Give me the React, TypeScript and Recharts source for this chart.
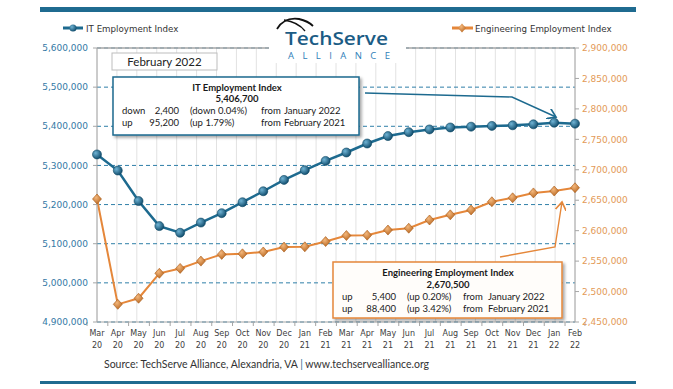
import { CartesianGrid, Line, LineChart, ReferenceLine, XAxis, YAxis } from 'recharts'

const categories = [
    'Mar 20', 'Apr 20', 'May 20', 'Jun 20', 'Jul 20', 'Aug 20', 'Sep 20', 'Oct 20',
    'Nov 20', 'Dec 20', 'Jan 21', 'Feb 21', 'Mar 21', 'Apr 21', 'May 21', 'Jun 21',
    'Jul 21', 'Aug 21', 'Sep 21', 'Oct 21', 'Nov 21', 'Dec 21', 'Jan 22', 'Feb 22',
]

const itIndex = [
    5328000, 5287000, 5209000, 5145000, 5128000, 5154000, 5178000, 5206000,
    5234000, 5263000, 5288000, 5311500, 5333000, 5356000, 5375000, 5385000,
    5392000, 5397000, 5399000, 5401000, 5402500, 5405000, 5409100, 5406700,
]

const engIndex = [
    2652000, 2479000, 2489000, 2530000, 2538000, 2550000, 2561000, 2562000,
    2565000, 2573000, 2573500, 2582100, 2592000, 2592500, 2601000, 2604000,
    2617500, 2626000, 2634000, 2647500, 2654000, 2662000, 2665100, 2670500,
]

const leftTicks = [4900000, 5000000, 5100000, 5200000, 5300000, 5400000, 5500000, 5600000]
const rightTicks = [2450000, 2500000, 2550000, 2600000, 2650000, 2700000, 2750000, 2800000, 2850000, 2900000]

const data = categories.map((name, i) => ({ name, it: itIndex[i], eng: engIndex[i] }))

const W = 673
const H = 389
const LEFT_W = 97
const RIGHT_W = 98
const BAND = (W - LEFT_W - RIGHT_W) / categories.length

const TEAL = '#1d6a8f'
const ORANGE = '#e5873a'
const fmt = (v: number) => v.toLocaleString('en-US')

const XTick = (props: any) => {
    const { x, y, payload, index } = props
    const [m, yr] = String(payload.value).split(' ')
    return (
        <g>
            <line x1={x - BAND / 2} x2={x - BAND / 2} y1={y} y2={y + 4} stroke="#a6a6a6" />
            {index === categories.length - 1 && (
                <line x1={x + BAND / 2} x2={x + BAND / 2} y1={y} y2={y + 4} stroke="#a6a6a6" />
            )}
            <text x={x} y={y + 14} textAnchor="middle" fontSize={8} fontFamily="DejaVu Sans" fill="#404040">
                {m}
            </text>
            <text x={x} y={y + 26} textAnchor="middle" fontSize={8} fontFamily="DejaVu Sans" fill="#404040">
                {yr}
            </text>
        </g>
    )
}

const Diamond = (props: any) => {
    const { cx, cy } = props
    if (cx == null || cy == null) return null
    return (
        <path
            d={`M${cx},${cy - 5} L${cx + 4.5},${cy} L${cx},${cy + 5} L${cx - 4.5},${cy} Z`}
            fill="url(#engDot)"
            stroke="#a85a18"
            strokeWidth={0.6}
        />
    )
}

const Ball = (props: any) => {
    const { cx, cy } = props
    if (cx == null || cy == null) return null
    return <circle cx={cx} cy={cy} r={4.5} fill="url(#itDot)" stroke="#0c4663" strokeWidth={0.6} />
}

const boxText = { fontFamily: 'Lato', fontSize: 9.5, fill: '#1a1a1a' }

export default function App() {
    return (
        <div style={{ position: 'absolute', left: 0, top: 0, width: W, height: H, background: '#fff' }}>
            <LineChart
                width={W}
                height={H}
                data={data}
                margin={{ top: 48, right: 0, bottom: 37, left: 0 }}
                style={{ position: 'absolute', left: 0, top: 0 }}
            >
                <CartesianGrid
                    vertical
                    horizontal={false}
                    stroke="#e2e2e2"
                    verticalCoordinatesGenerator={({ offset }: any) =>
                        Array.from({ length: categories.length + 1 }, (_, i) => offset.left + (i * offset.width) / categories.length)
                    }
                />
                <CartesianGrid
                    yAxisId="left"
                    vertical={false}
                    stroke="#2f7fa8"
                    strokeDasharray="4 3"
                />
                <XAxis
                    dataKey="name"
                    height={30}
                    interval={0}
                    tickSize={0}
                    tickMargin={0}
                    tickLine={false}
                    stroke="#a6a6a6"
                    tick={<XTick />}
                />
                <YAxis
                    yAxisId="left"
                    width={LEFT_W}
                    domain={[4900000, 5600000]}
                    ticks={leftTicks}
                    tickFormatter={fmt}
                    tickSize={4}
                    tickMargin={5}
                    stroke="#a6a6a6"
                    tick={{ fill: '#3479a5', fontSize: 9, fontFamily: 'DejaVu Sans' }}
                />
                <YAxis
                    yAxisId="right"
                    orientation="right"
                    width={RIGHT_W}
                    domain={[2450000, 2900000]}
                    ticks={rightTicks}
                    tickFormatter={fmt}
                    tickSize={4}
                    tickMargin={3}
                    stroke="#a6a6a6"
                    tick={{ fill: '#e39a57', fontSize: 9, fontFamily: 'DejaVu Sans', textAnchor: 'start' }}
                />
                <ReferenceLine yAxisId="left" y={5600000} stroke="#a6a6a6" strokeWidth={1.5} />
                <Line
                    yAxisId="right"
                    type="linear"
                    dataKey="eng"
                    stroke={ORANGE}
                    strokeWidth={2}
                    dot={<Diamond />}
                    isAnimationActive={false}
                />
                <Line
                    yAxisId="left"
                    type="linear"
                    dataKey="it"
                    stroke={TEAL}
                    strokeWidth={2.5}
                    dot={<Ball />}
                    isAnimationActive={false}
                />
            </LineChart>

            <svg width={W} height={H} style={{ position: 'absolute', left: 0, top: 0, pointerEvents: 'none' }}>
                <defs>
                    <radialGradient id="itDot" cx="35%" cy="35%" r="70%">
                        <stop offset="0%" stopColor="#6fb3d4" />
                        <stop offset="100%" stopColor="#0e4a6a" />
                    </radialGradient>
                    <radialGradient id="engDot" cx="40%" cy="35%" r="70%">
                        <stop offset="0%" stopColor="#f3b77c" />
                        <stop offset="100%" stopColor="#b8661f" />
                    </radialGradient>
                    <filter id="shadow" x="-5%" y="-10%" width="115%" height="135%">
                        <feDropShadow dx="2" dy="2" stdDeviation="1.5" floodColor="#000" floodOpacity="0.35" />
                    </filter>
                    <marker id="arrTeal" markerWidth="8" markerHeight="8" refX="6" refY="4" orient="auto">
                        <path d="M0,0 L6,4 L0,8" fill="none" stroke={TEAL} strokeWidth={1.2} />
                    </marker>
                    <marker id="arrOrange" markerWidth="8" markerHeight="8" refX="6" refY="4" orient="auto">
                        <path d="M0,0 L6,4 L0,8" fill="none" stroke={ORANGE} strokeWidth={1.2} />
                    </marker>
                </defs>

                {/* frame bars */}
                <rect x={40} y={7} width={596} height={5} fill="#1f6b90" />
                <rect x={40} y={381} width={596} height={3} fill="#1f6b90" />

                {/* logo */}
                <rect x={269} y={16} width={137} height={47} fill="#fff" />
                <path d="M277,29 Q284,17 299,19 Q308,21 313,26" fill="none" stroke="#111" strokeWidth={1.8} />
                <path d="M284,20 Q298,22 305,31" fill="none" stroke="#111" strokeWidth={1.3} />
                <text x={285} y={45} fontFamily="Open Sans" fontWeight={600} fontSize={18} fill="#1b5c85" textLength={103} lengthAdjust="spacingAndGlyphs">
                    TechServe
                </text>
                <text x={288} y={58.5} fontFamily="Open Sans" fontSize={9.5} fill="#2f80b9" textLength={102} lengthAdjust="spacing">
                    ALLIANCE
                </text>

                {/* legend */}
                <line x1={63} x2={83} y1={28} y2={28} stroke={TEAL} strokeWidth={3} />
                <circle cx={73} cy={28} r={3.5} fill="url(#itDot)" />
                <text x={86} y={31.5} fontFamily="DejaVu Sans" fontSize={8.7} fill="#333">IT Employment Index</text>
                <line x1={452} x2={473} y1={28} y2={28} stroke={ORANGE} strokeWidth={3} />
                <path d="M462,23.5 L466,28 L462,32.5 L458,28 Z" fill="url(#engDot)" />
                <text x={475} y={31.5} fontFamily="DejaVu Sans" fontSize={8.7} fill="#333">Engineering Employment Index</text>

                {/* month label */}
                <rect x={112} y={53} width={105} height={17} fill="#fff" stroke="#bdbdbd" />
                <text x={164.5} y={65.5} textAnchor="middle" fontFamily="Lato" fontSize={11.5} fill="#222">February 2022</text>

                {/* IT callout */}
                <polyline points="365,93 512,97 556,117" fill="none" stroke={TEAL} strokeWidth={1.4} markerEnd="url(#arrTeal)" />
                <rect x={113} y={77} width={246} height={58} fill="#fff" stroke={TEAL} strokeWidth={1.5} filter="url(#shadow)" />
                <text x={237} y={90.5} textAnchor="middle" {...boxText} fontWeight={700}>IT Employment Index</text>
                <text x={237} y={102} textAnchor="middle" {...boxText} fontWeight={700}>5,406,700</text>
                <text x={122} y={114} {...boxText}>down</text>
                <text x={179} y={114} textAnchor="end" {...boxText}>2,400</text>
                <text x={190} y={114} {...boxText}>(down 0.04%)</text>
                <text x={261} y={114} {...boxText}>from</text>
                <text x={284} y={114} {...boxText}>January 2022</text>
                <text x={122} y={125.5} {...boxText}>up</text>
                <text x={179} y={125.5} textAnchor="end" {...boxText}>95,200</text>
                <text x={190} y={125.5} {...boxText}>(up 1.79%)</text>
                <text x={261} y={125.5} {...boxText}>from</text>
                <text x={284} y={125.5} {...boxText}>February 2021</text>

                {/* Engineering callout */}
                <polyline points="500,257 555,247 562,202" fill="none" stroke={ORANGE} strokeWidth={1.4} markerEnd="url(#arrOrange)" />
                <rect x={333} y={262} width={229} height={56} fill="#fffdfa" stroke={ORANGE} strokeWidth={1.5} filter="url(#shadow)" />
                <text x={448} y={275.5} textAnchor="middle" {...boxText} fontWeight={700}>Engineering Employment Index</text>
                <text x={448} y={287.5} textAnchor="middle" {...boxText} fontWeight={700}>2,670,500</text>
                <text x={342} y={300} {...boxText}>up</text>
                <text x={396} y={300} textAnchor="end" {...boxText}>5,400</text>
                <text x={407} y={300} {...boxText}>(up 0.20%)</text>
                <text x={463} y={300} {...boxText}>from</text>
                <text x={488} y={300} {...boxText}>January 2022</text>
                <text x={342} y={311.5} {...boxText}>up</text>
                <text x={396} y={311.5} textAnchor="end" {...boxText}>88,400</text>
                <text x={407} y={311.5} {...boxText}>(up 3.42%)</text>
                <text x={463} y={311.5} {...boxText}>from</text>
                <text x={488} y={311.5} {...boxText}>February 2021</text>

                {/* source */}
                <text x={104} y={367.5} fontFamily="Lato" fontSize={10.5} fill="#333">
                    Source: TechServe Alliance, Alexandria, VA <tspan fill="#1f6b90">|</tspan> www.techservealliance.org
                </text>
            </svg>
        </div>
    )
}
